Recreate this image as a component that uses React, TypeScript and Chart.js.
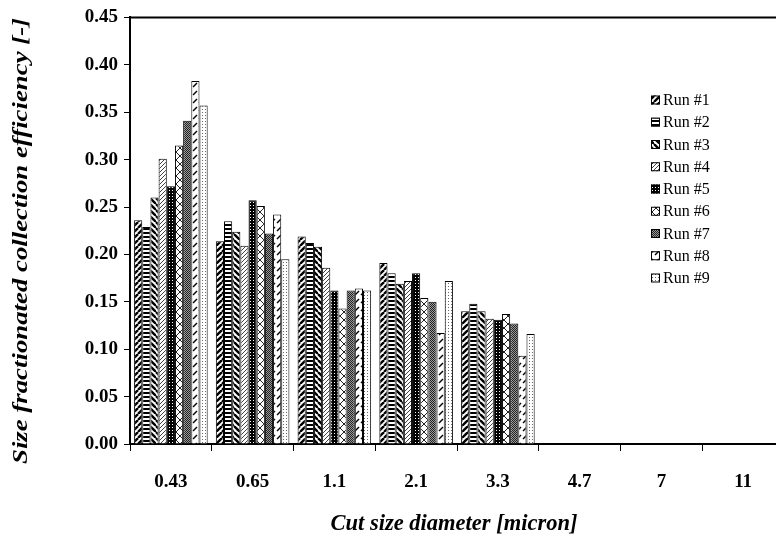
import React, { useEffect, useRef } from "react";
import { Chart, registerables } from "chart.js";

Chart.register(...registerables);

const categories = ["0.43", "0.65", "1.1", "2.1", "3.3", "4.7", "7", "11"];
const runLabels = ["Run #1", "Run #2", "Run #3", "Run #4", "Run #5", "Run #6", "Run #7", "Run #8", "Run #9"];
const run1 = [0.236, 0.214, 0.219, 0.191, 0.140, 0, 0, 0];
const run2 = [0.229, 0.235, 0.212, 0.180, 0.148, 0, 0, 0];
const run3 = [0.260, 0.224, 0.208, 0.169, 0.140, 0, 0, 0];
const run4 = [0.301, 0.209, 0.186, 0.172, 0.132, 0, 0, 0];
const run5 = [0.272, 0.257, 0.162, 0.180, 0.131, 0, 0, 0];
const run6 = [0.315, 0.251, 0.143, 0.154, 0.137, 0, 0, 0];
const run7 = [0.341, 0.222, 0.162, 0.150, 0.127, 0, 0, 0];
const run8 = [0.383, 0.242, 0.164, 0.117, 0.093, 0, 0, 0];
const run9 = [0.357, 0.195, 0.162, 0.172, 0.116, 0, 0, 0];
const runs = [run1, run2, run3, run4, run5, run6, run7, run8, run9];
const yTicks = [0, 0.05, 0.1, 0.15, 0.2, 0.25, 0.3, 0.35, 0.4, 0.45];

const SERIF = "'Liberation Serif', 'Times New Roman', serif";

function makePattern(kind: number): CanvasPattern | string {
  const c = document.createElement("canvas");
  let w = 8, h = 8;
  if (kind === 1 || kind === 3) { w = 6; h = 6; }
  if (kind === 2 || kind === 4) { w = 4; h = 4; }
  if (kind === 5 || kind === 9) { w = 3; h = 3; }
  if (kind === 7) { w = 2; h = 2; }
  if (kind === 8) { w = 6; h = 8; }
  c.width = w; c.height = h;
  const g = c.getContext("2d")!;
  g.fillStyle = "#fff";
  g.fillRect(0, 0, w, h);
  g.strokeStyle = "#000";
  g.fillStyle = "#000";
  const line = (x1: number, y1: number, x2: number, y2: number) => {
    g.beginPath(); g.moveTo(x1, y1); g.lineTo(x2, y2); g.stroke();
  };
  switch (kind) {
    case 1:
      g.lineWidth = 2.4;
      for (const o of [-6, 0, 6]) line(o, 6, o + 6, 0);
      break;
    case 2:
      g.fillRect(0, 0, 4, 2);
      break;
    case 3:
      g.lineWidth = 2.4;
      for (const o of [-6, 0, 6]) line(o, 0, o + 6, 6);
      break;
    case 4:
      g.lineWidth = 1;
      g.strokeStyle = "#444";
      for (const o of [-4, 0, 4]) line(o, 4, o + 4, 0);
      break;
    case 5:
      g.fillRect(0, 0, 3, 3);
      g.fillStyle = "#fff";
      g.fillRect(1, 1, 1, 1);
      break;
    case 6:
      g.lineWidth = 1;
      g.strokeStyle = "#222";
      line(0, 0, 8, 8);
      line(8, 0, 0, 8);
      break;
    case 7:
      g.fillStyle = "#222";
      g.fillRect(0, 0, 1, 1);
      g.fillRect(1, 1, 1, 1);
      g.fillStyle = "#999";
      g.fillRect(1, 0, 1, 1);
      g.fillRect(0, 1, 1, 1);
      break;
    case 8:
      g.lineWidth = 1.4;
      line(1, 7, 5, 3);
      break;
    case 9:
      g.fillStyle = "#666";
      g.fillRect(1, 1, 1, 1);
      break;
  }
  return g.createPattern(c, "repeat") || "#fff";
}

export default function App() {
  const ref = useRef<HTMLCanvasElement | null>(null);

  useEffect(() => {
    const canvas = ref.current;
    if (!canvas) return;
    const patterns = runs.map((_, i) => makePattern(i + 1));

    const decor = {
      id: "decor",
      afterDraw(chart: any) {
        const ctx = chart.ctx as CanvasRenderingContext2D;
        const a = chart.chartArea;
        ctx.save();
        // top border
        ctx.strokeStyle = "#000";
        ctx.lineWidth = 2;
        ctx.beginPath();
        ctx.moveTo(a.left, a.top);
        ctx.lineTo(a.right, a.top);
        ctx.stroke();
        // legend
        const lx = 651, ly0 = 100, step = 22.25;
        ctx.font = `16px ${SERIF}`;
        ctx.textBaseline = "middle";
        ctx.textAlign = "left";
        runLabels.forEach((lab, i) => {
          const y = ly0 + i * step;
          ctx.fillStyle = patterns[i] as any;
          ctx.fillRect(lx, y - 4.5, 9, 9);
          ctx.strokeStyle = "#000";
          ctx.lineWidth = 1;
          ctx.strokeRect(lx + 0.5, y - 4, 8, 8);
          ctx.fillStyle = "#000";
          ctx.fillText(lab, lx + 12, y + 1);
        });
        // axis titles
        ctx.font = `italic bold 22.5px ${SERIF}`;
        ctx.textAlign = "center";
        ctx.fillText("Cut size diameter [micron]", 454, 524);
        ctx.font = `italic bold 21px ${SERIF}`;
        ctx.translate(22, 241);
        ctx.rotate(-Math.PI / 2);
        const yTitle = "Size fractionated collection efficiency [-]";
        const wNat = ctx.measureText(yTitle).width;
        ctx.scale(446 / wNat, 1);
        ctx.fillText(yTitle, 0, 0);
        ctx.restore();
      },
    };

    const chart = new Chart(canvas, {
      type: "bar",
      data: {
        labels: categories,
        datasets: runs.map((vals, i) => ({
          label: runLabels[i],
          data: vals,
          backgroundColor: patterns[i] as any,
          borderColor: "#000",
          borderWidth: 1,
          barPercentage: 1,
          categoryPercentage: 0.9,
        })),
      },
      options: {
        animation: false,
        responsive: false,
        maintainAspectRatio: false,
        layout: { padding: { top: 15, right: 6, left: 0, bottom: 0 } },
        plugins: { legend: { display: false }, tooltip: { enabled: false } },
        scales: {
          x: {
            grid: { display: true, drawOnChartArea: false, drawTicks: true, tickLength: 7, color: "#000", lineWidth: 1, offset: true },
            border: { display: true, color: "#000", width: 2 },
            ticks: { font: { family: SERIF, size: 19, weight: "bold" }, color: "#000", padding: 20, maxRotation: 0, autoSkip: false },
            afterFit: (s: any) => { s.height = 99; },
          },
          y: {
            min: 0,
            max: 0.45,
            afterBuildTicks: (s: any) => { s.ticks = yTicks.map((v) => ({ value: v })); },
            grid: { display: true, drawOnChartArea: false, drawTicks: true, tickLength: 6, color: "#000", lineWidth: 1 },
            border: { display: true, color: "#000", width: 2 },
            ticks: {
              font: { family: SERIF, size: 19, weight: "bold" },
              color: "#000",
              padding: 6,
              callback: (v: any) => Number(v).toFixed(2),
            },
            afterFit: (s: any) => { s.width = 130; },
          },
        },
      },
      plugins: [decor],
    });
    return () => chart.destroy();
  }, []);

  return (
    <div style={{ position: "absolute", left: 0, top: 0, width: 776, height: 543, overflow: "hidden", background: "#fff" }}>
      <canvas ref={ref} width={790} height={543} style={{ width: 790, height: 543, display: "block" }} />
    </div>
  );
}
